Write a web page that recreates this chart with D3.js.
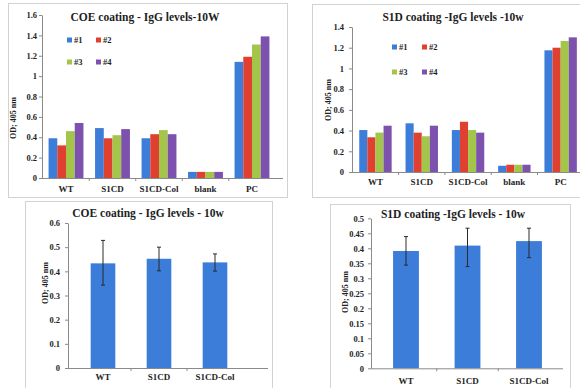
<!DOCTYPE html>
<html>
<head>
<meta charset="utf-8">
<script src="https://cdn.jsdelivr.net/npm/d3@7"></script>
<style>
  html, body { margin: 0; padding: 0; background: #fff; }
  svg { display: block; font-family: "Liberation Serif", "Times New Roman", serif; font-weight: bold; }
</style>
</head>
<body>
<svg id="chart" width="580" height="388"></svg>
<script>
// ---- data -------------------------------------------------------------
const groups = ["WT", "S1CD", "S1CD-Col", "blank", "PC"];
const seriesNames = ["#1", "#2", "#3", "#4"];
const seriesColors = ["#3B7DD8", "#E0402F", "#A3C54A", "#7D52AE"];

// COE coating, OD 405 nm per mouse (#1..#4)
const coeMouse1 = [0.39, 0.49, 0.39, 0.06, 1.14];
const coeMouse2 = [0.32, 0.39, 0.43, 0.06, 1.19];
const coeMouse3 = [0.46, 0.42, 0.47, 0.06, 1.31];
const coeMouse4 = [0.54, 0.48, 0.43, 0.06, 1.39];

// S1D coating, OD 405 nm per mouse (#1..#4)
const s1dMouse1 = [0.405, 0.47, 0.405, 0.06, 1.175];
const s1dMouse2 = [0.335, 0.38, 0.485, 0.07, 1.20];
const s1dMouse3 = [0.38, 0.345, 0.405, 0.07, 1.265];
const s1dMouse4 = [0.447, 0.447, 0.38, 0.07, 1.30];

// group means with error bars
const summaryGroups = ["WT", "S1CD", "S1CD-Col"];
const coeMean = [0.433, 0.452, 0.437];
const coeErrPlus = [0.095, 0.048, 0.035];
const coeErrMinus = [0.09, 0.05, 0.036];
const s1dMean = [0.391, 0.409, 0.424];
const s1dErrPlus = [0.048, 0.058, 0.043];
const s1dErrMinus = [0.047, 0.07, 0.055];

// axis ticks
const coeTicks = [0, 0.2, 0.4, 0.6, 0.8, 1, 1.2, 1.4, 1.6];
const s1dTicks = [0, 0.2, 0.4, 0.6, 0.8, 1, 1.2, 1.4];
const coeSummaryTicks = [0, 0.1, 0.2, 0.3, 0.4, 0.5, 0.6];
const s1dSummaryTicks = [0, 0.05, 0.1, 0.15, 0.2, 0.25, 0.3, 0.35, 0.4, 0.45, 0.5];

const yLabel = "OD; 405 nm";

// ---- drawing helpers --------------------------------------------------
const svg = d3.select("#chart");
const fmt = d => String(+d.toFixed(3));
const AXIS = "#8a8a8a";
const TEXT = "#1e1e1e";

function frame(b) {
  svg.append("rect")
    .attr("x", b.x + 0.5).attr("y", b.y + 0.5)
    .attr("width", b.w).attr("height", b.h)
    .attr("fill", "#fff").attr("stroke", "#d2d2d2").attr("stroke-width", 1);
}

function valueAxis(g, y, ticks, xPos, pad) {
  const ax = g.append("g")
    .attr("transform", `translate(${xPos},0)`)
    .call(d3.axisLeft(y).tickValues(ticks).tickFormat(fmt).tickSize(3).tickSizeOuter(0).tickPadding(pad));
  ax.select(".domain").attr("stroke", AXIS);
  ax.selectAll(".tick line").attr("stroke", AXIS);
  ax.selectAll(".tick text").attr("fill", TEXT).attr("font-size", 8.5)
    .attr("font-family", "Liberation Serif, serif").attr("font-weight", "bold");
}

function categoryAxis(g, x, y0, xStart, xEnd, pad) {
  g.append("line")
    .attr("x1", xStart).attr("x2", xEnd).attr("y1", y0 + 0.5).attr("y2", y0 + 0.5)
    .attr("stroke", AXIS);
  // small marks between categories
  const bounds = x.domain().slice(1).map(d => x(d) - x.step() * x.paddingInner() / 2);
  g.selectAll(".sep").data(bounds).join("line")
    .attr("x1", d => d).attr("x2", d => d)
    .attr("y1", y0).attr("y2", y0 + 3)
    .attr("stroke", AXIS);
  const ax = g.append("g")
    .attr("transform", `translate(0,${y0})`)
    .call(d3.axisBottom(x).tickSize(0).tickPadding(pad));
  ax.select(".domain").remove();
  ax.selectAll(".tick text").attr("fill", TEXT).attr("font-size", 9)
    .attr("font-family", "Liberation Serif, serif").attr("font-weight", "bold");
}

function titles(g, cfg) {
  g.append("text")
    .attr("x", cfg.titleX).attr("y", cfg.titleY)
    .attr("text-anchor", "middle").attr("font-size", 11.5).attr("fill", TEXT)
    .text(cfg.title);
  g.append("text")
    .attr("transform", `translate(${cfg.labelX},${cfg.labelY}) rotate(-90)`)
    .attr("text-anchor", "middle").attr("font-size", 8).attr("fill", TEXT)
    .text(yLabel);
}

function groupedPanel(cfg) {
  frame(cfg.box);
  const g = svg.append("g");
  const x = d3.scaleBand().domain(groups)
    .range([cfg.bandStart, cfg.bandEnd]).paddingInner(cfg.pad).paddingOuter(cfg.pad / 2);
  const xs = d3.scaleBand().domain(seriesNames).range([0, x.bandwidth()]);
  const y = d3.scaleLinear().domain([0, cfg.max]).range([cfg.y0, cfg.yTop]);

  const rows = groups.map((grp, i) => ({ grp, vals: cfg.series.map((s, k) => ({ k, v: s[i] })) }));
  g.selectAll(".grp").data(rows).join("g")
    .attr("transform", d => `translate(${x(d.grp)},0)`)
    .selectAll("rect").data(d => d.vals).join("rect")
    .attr("x", d => xs(seriesNames[d.k]))
    .attr("width", xs.bandwidth())
    .attr("y", d => y(d.v))
    .attr("height", d => y(0) - y(d.v))
    .attr("fill", d => seriesColors[d.k]);

  valueAxis(g, y, cfg.ticks, cfg.axisX, cfg.tickPad);
  categoryAxis(g, x, cfg.y0, cfg.axisX, cfg.lineEnd, cfg.catPad);
  titles(g, cfg);

  // legend in two rows of two
  const leg = g.selectAll(".leg").data(seriesNames).join("g")
    .attr("transform", (d, i) => `translate(${cfg.legX + (i % 2) * cfg.legDX},${cfg.legY + Math.floor(i / 2) * cfg.legDY})`);
  leg.append("rect").attr("x", 0).attr("y", -2.5).attr("width", 5).attr("height", 5)
    .attr("fill", (d, i) => seriesColors[i]);
  leg.append("text").attr("x", 7).attr("y", 3).attr("font-size", 8.5).attr("fill", TEXT).text(d => d);
}

function summaryPanel(cfg) {
  frame(cfg.box);
  const g = svg.append("g");
  const x = d3.scaleBand().domain(summaryGroups)
    .range([cfg.bandStart, cfg.bandEnd]).paddingInner(cfg.pad).paddingOuter(cfg.pad / 2);
  const y = d3.scaleLinear().domain([0, cfg.max]).range([cfg.y0, cfg.yTop]);
  const rows = summaryGroups.map((grp, i) => ({
    grp, v: cfg.mean[i], hi: cfg.mean[i] + cfg.plus[i], lo: cfg.mean[i] - cfg.minus[i]
  }));

  g.selectAll(".bar").data(rows).join("rect")
    .attr("x", d => x(d.grp)).attr("width", x.bandwidth())
    .attr("y", d => y(d.v)).attr("height", d => y(0) - y(d.v))
    .attr("fill", seriesColors[0]);

  const cx = d => x(d.grp) + x.bandwidth() / 2;
  const err = g.selectAll(".err").data(rows).join("g").attr("stroke", "#2a2a2a").attr("stroke-width", 1);
  err.append("line").attr("x1", cx).attr("x2", cx).attr("y1", d => y(d.hi)).attr("y2", d => y(d.lo));
  err.append("line").attr("x1", d => cx(d) - 2).attr("x2", d => cx(d) + 2).attr("y1", d => y(d.hi)).attr("y2", d => y(d.hi));
  err.append("line").attr("x1", d => cx(d) - 2).attr("x2", d => cx(d) + 2).attr("y1", d => y(d.lo)).attr("y2", d => y(d.lo));

  valueAxis(g, y, cfg.ticks, cfg.axisX, cfg.tickPad);
  categoryAxis(g, x, cfg.y0, cfg.axisX, cfg.lineEnd, cfg.catPad);
  titles(g, cfg);
}

// ---- the four panels --------------------------------------------------
groupedPanel({
  box: { x: 8, y: 3, w: 279, h: 194 },
  series: [coeMouse1, coeMouse2, coeMouse3, coeMouse4],
  max: 1.6, ticks: coeTicks, y0: 178, yTop: 15,
  bandStart: 42.75, bandEnd: 275.25, pad: 0.25,
  axisX: 42, lineEnd: 283, tickPad: 2, catPad: 7.5,
  title: "COE coating - IgG levels-10W", titleX: 145, titleY: 21,
  labelX: 16, labelY: 118,
  legX: 67, legY: 40, legDX: 29, legDY: 22
});

groupedPanel({
  box: { x: 312, y: 4, w: 272, h: 193 },
  series: [s1dMouse1, s1dMouse2, s1dMouse3, s1dMouse4],
  max: 1.4, ticks: s1dTicks, y0: 172, yTop: 27,
  bandStart: 352.3, bandEnd: 583.8, pad: 0.3,
  axisX: 352, lineEnd: 582, tickPad: 5, catPad: 6.5,
  title: "S1D coating -IgG levels -10w", titleX: 453, titleY: 21,
  labelX: 331, labelY: 100,
  legX: 392, legY: 47, legDX: 30, legDY: 25
});

summaryPanel({
  box: { x: 25, y: 201, w: 247, h: 192 },
  mean: coeMean, plus: coeErrPlus, minus: coeErrMinus,
  max: 0.6, ticks: coeSummaryTicks, y0: 368, yTop: 223,
  bandStart: 75, bandEnd: 243, pad: 0.56,
  axisX: 68, lineEnd: 268, tickPad: 5, catPad: 6,
  title: "COE coating - IgG levels - 10w", titleX: 148, titleY: 217,
  labelX: 48, labelY: 283
});

summaryPanel({
  box: { x: 330, y: 204, w: 240, h: 190 },
  mean: s1dMean, plus: s1dErrPlus, minus: s1dErrMinus,
  max: 0.5, ticks: s1dSummaryTicks, y0: 368.3, yTop: 218.3,
  bandStart: 375.25, bandEnd: 559.75, pad: 0.58,
  axisX: 371, lineEnd: 563, tickPad: 4, catPad: 9,
  title: "S1D coating -IgG levels - 10w", titleX: 453, titleY: 218,
  labelX: 348, labelY: 292
});
</script>
</body>
</html>
